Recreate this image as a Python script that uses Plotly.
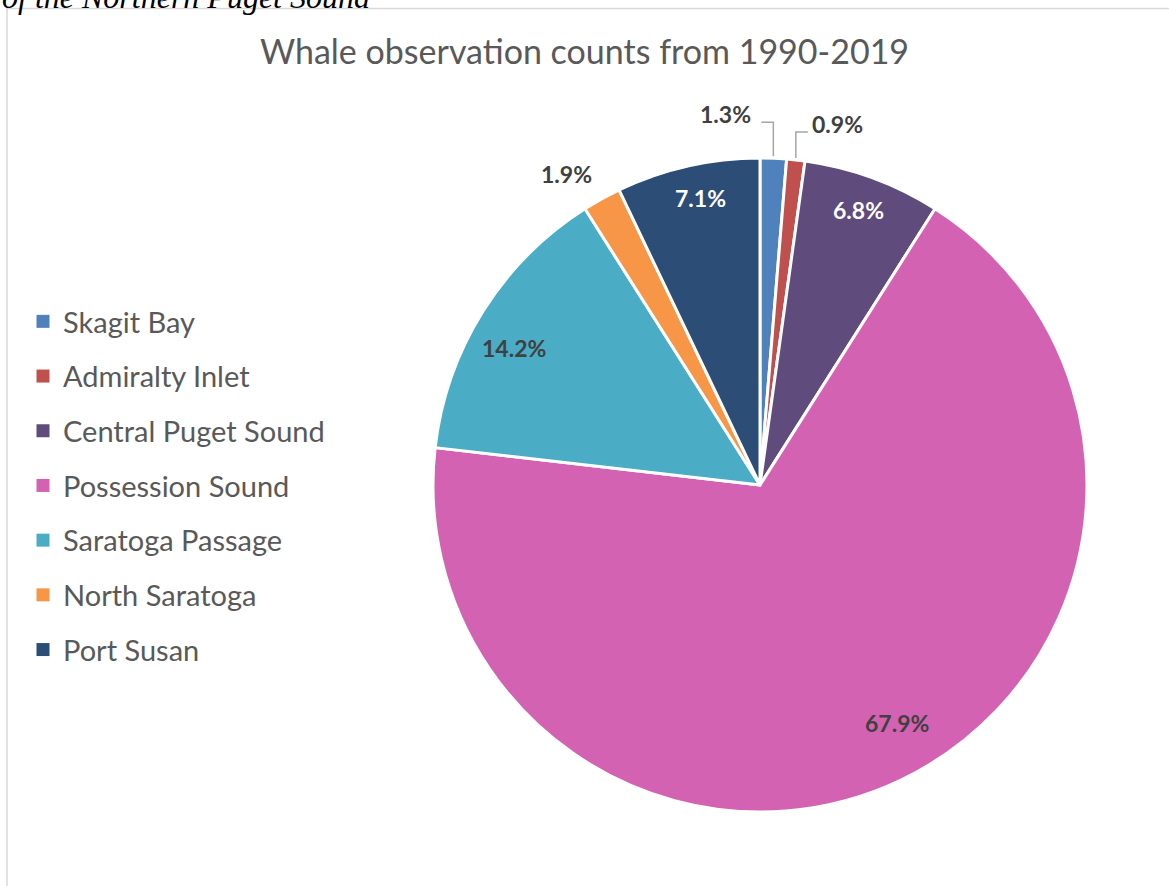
import math
import plotly.graph_objects as go

# Whale observation share by sub-basin, 1990-2019
regions = ["Skagit Bay", "Admiralty Inlet", "Central Puget Sound", "Possession Sound",
           "Saratoga Passage", "North Saratoga", "Port Susan"]
share_pct = [1.3, 0.9, 6.8, 67.9, 14.2, 1.9, 7.1]
colors = ["#4F81BD", "#C0504D", "#5F4B7C", "#D363B2", "#4BACC6", "#F79646", "#2C4D75"]
label_col = ["#404040", "#404040", "#FFFFFF", "#404040", "#404040", "#404040", "#FFFFFF"]

# Data-label placement: ("in"/"out", radius factor, angle nudge in degrees)
# or ("callout", dx, dy, anchor) relative to the slice's outer edge point.
label_style = [
    ("callout", -20, -44, "right"),
    ("callout", 14, -36, "left"),
    ("in", 0.893, -0.5),
    ("in", 0.84, -4.4),
    ("in", 0.86, -3.0),
    ("out", 1.12, -3.0),
    ("in", 0.895, 1.0),
]

W, H = 1169, 886
cx, cy, r = 760, 485, 327
LABEL_FONT = "Lato"
LEADER = "#A6A6A6"


def px(x):
    return x / W


def py(y):
    return 1 - y / H


def polar(angle_deg, dist):
    a = math.radians(angle_deg)
    return cx + dist * math.sin(a), cy - dist * math.cos(a)


fig = go.Figure()
fig.add_trace(go.Pie(
    labels=regions,
    values=share_pct,
    sort=False,
    direction="clockwise",
    rotation=0,
    marker=dict(colors=colors, line=dict(color="white", width=3)),
    textinfo="none",
    showlegend=False,
    domain=dict(x=[px(cx - r), px(cx + r)], y=[py(cy + r), py(cy - r)]),
    hoverinfo="label+percent",
))

# Legend entries, one group per region so the rows can be spaced apart
for name, col in zip(regions, colors):
    fig.add_trace(go.Scatter(
        x=[None], y=[None], mode="markers", name=name, legendgroup=name,
        marker=dict(symbol="square", size=13, color=col),
        hoverinfo="skip",
    ))

annotations = []
shapes = []
total = sum(share_pct)
cum = 0.0
for val, col, style in zip(share_pct, label_col, label_style):
    mid = (cum + val / 2) / total * 360.0
    cum += val
    text = f"<b>{val:.1f}%</b>"
    font = dict(family=LABEL_FONT, size=23, color=col)
    if style[0] == "callout":
        _, dx, dy, anchor = style
        ex, ey = polar(mid, r)
        lx, ly = ex + dx, ey + dy
        corner_y = ly + 8
        end_x = ex - 12 if anchor == "right" else ex + 12
        shapes.append(dict(
            type="path", xref="paper", yref="paper",
            path=f"M {px(ex)} {py(ey - 2)} L {px(ex)} {py(corner_y)} L {px(end_x)} {py(corner_y)}",
            line=dict(color=LEADER, width=1.5),
        ))
        annotations.append(dict(text=text, xref="paper", yref="paper", x=px(lx), y=py(ly),
                                xanchor=anchor, yanchor="middle", showarrow=False, font=font))
    else:
        _, k, nudge = style
        lx, ly = polar(mid + nudge, k * r)
        annotations.append(dict(text=text, xref="paper", yref="paper", x=px(lx), y=py(ly),
                                xanchor="center", yanchor="middle", showarrow=False, font=font))

# Document caption line above the chart frame
annotations.append(dict(text="<i>of the Northern Puget Sound</i>", xref="paper", yref="paper",
                        x=0, y=1 + 23 / H, xanchor="left", yanchor="top", showarrow=False,
                        font=dict(family="Liberation Serif", size=32, color="#000000")))

# Chart frame
shapes.append(dict(type="rect", xref="paper", yref="paper",
                   x0=px(7), x1=1.01, y0=-0.01, y1=py(8.5),
                   line=dict(color="#D9D9D9", width=1.5), fillcolor="rgba(0,0,0,0)"))

fig.update_layout(
    width=W, height=H,
    margin=dict(l=0, r=0, t=0, b=0),
    paper_bgcolor="white",
    plot_bgcolor="white",
    xaxis=dict(visible=False),
    yaxis=dict(visible=False),
    title=dict(text="Whale observation counts from 1990-2019", x=0.5, xanchor="center",
               y=py(52), yanchor="middle",
               font=dict(family="Lato", size=34, color="#595959")),
    legend=dict(x=px(23), y=py(296), xanchor="left", yanchor="top",
                font=dict(family="Lato", size=29, color="#595959"),
                tracegroupgap=14, itemwidth=30,
                bgcolor="rgba(0,0,0,0)"),
    showlegend=True,
    shapes=shapes,
    annotations=annotations,
)

fig.write_html("out.html")
